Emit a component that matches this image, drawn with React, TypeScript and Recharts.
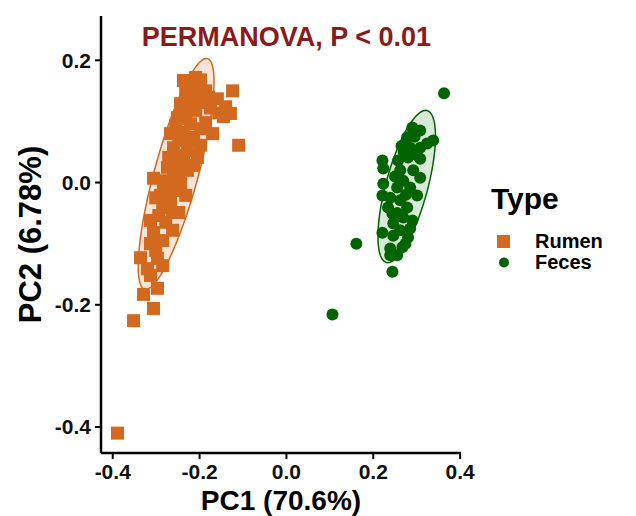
import {
  ScatterChart,
  Scatter,
  XAxis,
  YAxis,
  Legend,
  ReferenceDot,
} from "recharts";

const RUMEN = "#D2691E";
const FECES = "#006400";
const FONT = "'Liberation Sans', Arial, sans-serif";

// PCoA coordinates
const rumenPC1 = [
  -0.237, -0.209, -0.198, -0.124, -0.221, -0.205, -0.179, -0.159, -0.244, -0.228,
  -0.156, -0.129, -0.145, -0.251, -0.186, -0.221, -0.17, -0.267, -0.237, -0.214,
  -0.11, -0.26, -0.228, -0.205, -0.271, -0.244, -0.274, -0.228, -0.306, -0.26,
  -0.244, -0.283, -0.255, -0.301, -0.267, -0.285, -0.248, -0.313, -0.278, -0.306,
  -0.285, -0.313, -0.336, -0.297, -0.32, -0.297, -0.329, -0.306, -0.352, -0.389,
  -0.232, -0.209, -0.186, -0.244, -0.209, -0.175, -0.232, -0.198, -0.255, -0.221,
  -0.248, -0.198, -0.237, -0.255, -0.214, -0.278, -0.232, -0.29, -0.262, -0.294,
  -0.262, -0.301, -0.285, -0.313, -0.232, -0.198, -0.14,
];
const rumenPC2 = [
  0.167, 0.172, 0.168, 0.15, 0.142, 0.146, 0.139, 0.137, 0.129, 0.123,
  0.114, 0.113, 0.108, 0.106, 0.098, 0.096, 0.08, 0.08, 0.082, 0.074,
  0.061, 0.057, 0.052, 0.041, 0.041, 0.036, 0.025, 0.02, 0.007, 0.008,
  0.0, -0.008, -0.013, -0.025, -0.029, -0.041, -0.049, -0.062, -0.065, -0.082,
  -0.095, -0.1, -0.123, -0.124, -0.141, -0.173, -0.183, -0.206, -0.226, -0.41,
  0.154, 0.159, 0.15, 0.118, 0.118, 0.122, 0.105, 0.088, 0.093, 0.069,
  0.069, 0.061, 0.044, 0.02, 0.028, 0.003, -0.021, -0.021, -0.049, -0.054,
  -0.078, -0.111, -0.136, -0.152, 0.134, 0.131, 0.124,
];
const fecesPC1 = [
  0.363, 0.161, 0.244, 0.106, 0.29, 0.308, 0.338, 0.324, 0.278, 0.285,
  0.308, 0.221, 0.257, 0.28, 0.308, 0.223, 0.262, 0.292, 0.308, 0.269,
  0.223, 0.255, 0.285, 0.221, 0.239, 0.301, 0.262, 0.278, 0.234, 0.244,
  0.269, 0.29, 0.246, 0.221, 0.262, 0.285, 0.246, 0.274, 0.239, 0.255,
  0.267, 0.239, 0.295, 0.27, 0.25, 0.275, 0.255, 0.3, 0.265, 0.28,
];
const fecesPC2 = [
  0.146, -0.1, -0.146, -0.216, 0.09, 0.085, 0.069, 0.064, 0.074, 0.057,
  0.057, 0.036, 0.036, 0.041, 0.039, 0.023, 0.02, 0.02, 0.008, 0.003,
  -0.002, -0.008, -0.008, -0.021, -0.025, -0.021, -0.029, -0.041, -0.041, -0.051,
  -0.057, -0.062, -0.067, -0.082, -0.078, -0.075, -0.087, -0.1, -0.108, -0.119,
  -0.106, -0.119, 0.075, 0.05, 0.01, -0.02, -0.05, 0.045, 0.06, -0.09,
];

// 95% ellipses: centre and semi-axis vectors, in PC units
const rumenEllipse = { cx: -0.254, cy: 0.014, ax: 0.0724, ay: 0.1889, bx: 0.0488, by: -0.0095 };
const fecesEllipse = { cx: 0.277, cy: -0.0065, ax: 0.0471, ay: 0.1243, bx: 0.0466, by: -0.0089 };

const legendOrder = ["Rumen", "Feces"];
const xTicks = [-0.4, -0.2, 0, 0.2, 0.4];
const yTicks = [-0.4, -0.2, 0, 0.2];

const rumenData = rumenPC1.map((x, i) => ({ x, y: rumenPC2[i] }));
const fecesData = fecesPC1.map((x, i) => ({ x, y: fecesPC2[i] }));

const ring = (e: any) =>
  Array.from({ length: 73 }, (_, i) => {
    const t = (i / 72) * Math.PI * 2;
    return {
      x: e.cx + e.ax * Math.cos(t) + e.bx * Math.sin(t),
      y: e.cy + e.ay * Math.cos(t) + e.by * Math.sin(t),
    };
  });

const Square = (p: any) => (
  <rect x={p.cx - 6.5} y={p.cy - 6.5} width={13} height={13} fill={RUMEN} />
);
const Dot = (p: any) => <circle cx={p.cx} cy={p.cy} r={6} fill={FECES} />;

const renderLegend = (props: any) => {
  const items = (props.payload || [])
    .filter((p: any) => p.type !== "none")
    .sort((a: any, b: any) => legendOrder.indexOf(a.value) - legendOrder.indexOf(b.value));
  return (
    <div style={{ fontFamily: FONT, fontWeight: 700, color: "#000", paddingLeft: 3 }}>
      <div style={{ fontSize: 30, lineHeight: "28px" }}>Type</div>
      <div style={{ marginTop: 18 }}>
        {items.map((item: any) => (
          <div key={item.value} style={{ display: "flex", alignItems: "center", height: 21 }}>
            <svg width={27} height={21}>
              {item.type === "square" ? (
                <rect x={6} y={4} width={13} height={13} fill={RUMEN} />
              ) : (
                <circle cx={13} cy={10.5} r={5} fill={FECES} />
              )}
            </svg>
            <span style={{ fontSize: 20, marginLeft: 17, lineHeight: "21px" }}>{item.value}</span>
          </div>
        ))}
      </div>
    </div>
  );
};

const YTitle = (props: any) => {
  const { viewBox } = props;
  const cx = viewBox.x + 30;
  const cy = viewBox.y + viewBox.height / 2;
  return (
    <text
      x={cx}
      y={cy}
      transform={`rotate(-90, ${cx}, ${cy})`}
      textAnchor="middle"
      dominantBaseline="central"
      fontFamily={FONT}
      fontWeight={700}
      fontSize={31}
      fill="#000"
    >
      PC2 (6.78%)
    </text>
  );
};

const tickStyle = { fill: "#111", fontSize: 21, fontWeight: 700, fontFamily: FONT };

export default function App() {
  return (
    <div style={{ position: "absolute", left: 0, top: 0 }}>
      <ScatterChart width={636} height={516} margin={{ top: 16, right: 27, bottom: 0, left: 0 }}>
        <XAxis
          type="number"
          dataKey="x"
          domain={[-0.427, 0.402]}
          allowDataOverflow
          ticks={xTicks}
          tickFormatter={(v: number) => v.toFixed(1)}
          height={63}
          tick={tickStyle}
          tickSize={6}
          tickMargin={5}
          tickLine={{ stroke: "#000", strokeWidth: 2 }}
          axisLine={{ stroke: "#000", strokeWidth: 2.5 }}
          label={{
            value: "PC1 (70.6%)",
            position: "insideBottom",
            offset: 6,
            fill: "#000",
            fontSize: 28,
            fontWeight: 700,
            fontFamily: FONT,
          }}
        />
        <YAxis
          type="number"
          dataKey="y"
          domain={[-0.4425, 0.2725]}
          allowDataOverflow
          ticks={yTicks}
          tickFormatter={(v: number) => v.toFixed(1)}
          width={101}
          tick={tickStyle}
          tickSize={6}
          tickMargin={4}
          tickLine={{ stroke: "#000", strokeWidth: 2 }}
          axisLine={{ stroke: "#000", strokeWidth: 2.5 }}
          label={{ content: <YTitle /> }}
        />
        <Legend
          layout="vertical"
          align="right"
          verticalAlign="top"
          content={renderLegend}
          wrapperStyle={{ top: 185, left: 488, width: 148 }}
        />

        <Scatter
          name="rumen-ellipse"
          data={ring(rumenEllipse)}
          legendType="none"
          isAnimationActive={false}
          shape={() => <g />}
          line={{ stroke: RUMEN, strokeWidth: 1.5, fill: RUMEN, fillOpacity: 0.18 }}
          lineType="joint"
        />
        <Scatter
          name="feces-ellipse"
          data={ring(fecesEllipse)}
          legendType="none"
          isAnimationActive={false}
          shape={() => <g />}
          line={{ stroke: FECES, strokeWidth: 1.5, fill: FECES, fillOpacity: 0.15 }}
          lineType="joint"
        />

        <Scatter name="Rumen" data={rumenData} legendType="square" shape={Square} isAnimationActive={false} />
        <Scatter name="Feces" data={fecesData} legendType="circle" shape={Dot} isAnimationActive={false} />

        <ReferenceDot
          x={0}
          y={0.239}
          r={0}
          shape={() => <g />}
          label={{
            value: "PERMANOVA, P < 0.01",
            position: "center",
            fill: "#8B1A1A",
            fontSize: 27,
            fontWeight: 700,
            fontFamily: FONT,
          }}
        />
      </ScatterChart>
    </div>
  );
}
